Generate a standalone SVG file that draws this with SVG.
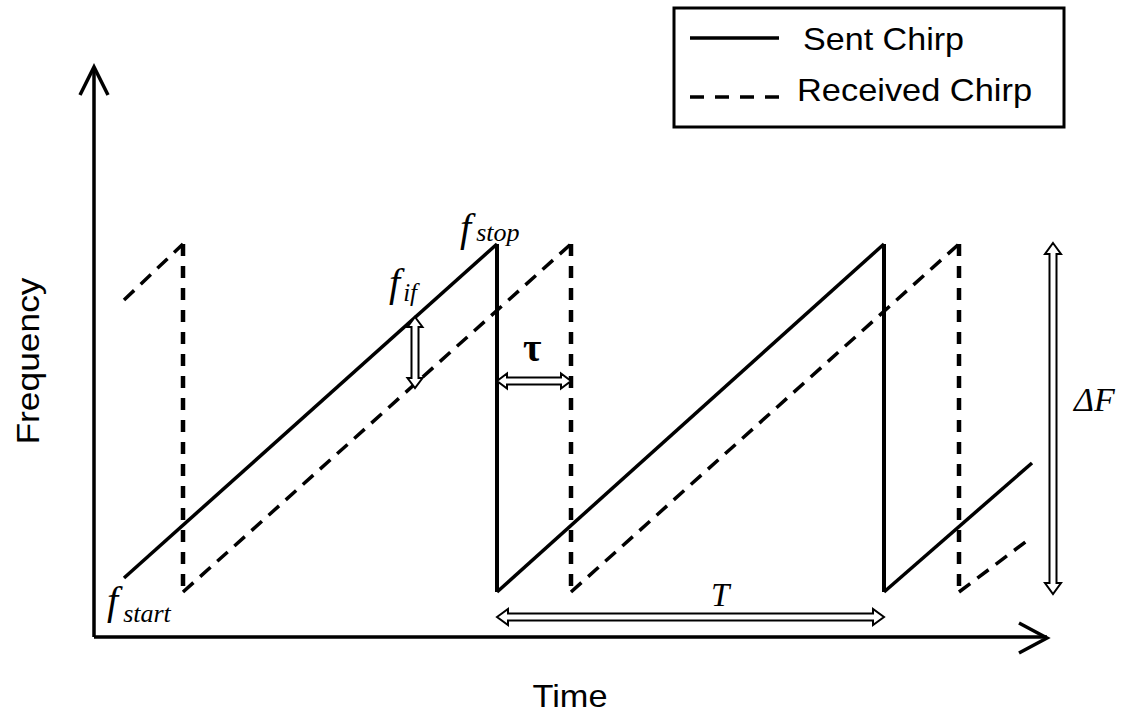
<svg xmlns="http://www.w3.org/2000/svg" width="1131" height="712" viewBox="0 0 1131 712">
  <style>
    .axis { stroke: #000; stroke-width: 3.5; fill: none; }
    .sent { stroke: #000; stroke-width: 3.5; fill: none; stroke-linejoin: miter; }
    .sentv { stroke: #000; stroke-width: 4; fill: none; }
    .recv { stroke: #000; stroke-width: 3.5; fill: none; stroke-dasharray: 14 9; }
    .recvv { stroke: #000; stroke-width: 4.5; fill: none; stroke-dasharray: 12 10; }
    .hollow { fill: #fff; stroke: #000; stroke-width: 2; stroke-linejoin: miter; }
    .sans { font-family: "Liberation Sans", Arial, sans-serif; fill: #000; }
    .math { font-family: "Liberation Serif", "Times New Roman", serif; font-style: italic; fill: #000; }
  </style>

  <rect width="1131" height="712" fill="#fff"/>

  <!-- axes -->
  <g id="axes">
    <path class="axis" d="M94,637 V67 M94,637 H1047"/>
    <path class="axis" stroke-width="4" d="M80,95 L94,67 L108,95"/>
    <path class="axis" stroke-width="4" d="M1019,623 L1047,638 L1019,653"/>
  </g>

  <!-- transmitted sawtooth -->
  <g id="sent-chirp">
    <path class="sent" d="M124,578 L497,244"/>
    <path class="sentv" d="M497,244 V592"/>
    <path class="sent" d="M497,592 L884,244"/>
    <path class="sentv" d="M884,244 V592"/>
    <path class="sent" d="M884,592 L1032,463"/>
  </g>

  <!-- delayed (received) sawtooth -->
  <g id="received-chirp">
    <path class="recv" d="M124,300 L183,244"/>
    <path class="recvv" d="M183,244 V592"/>
    <path class="recv" d="M183,592 L571,244"/>
    <path class="recvv" d="M571,244 V592"/>
    <path class="recv" d="M571,592 L959,244"/>
    <path class="recvv" d="M959,244 V592"/>
    <path class="recv" d="M959,592 L1032,537"/>
  </g>

  <!-- dimension arrows -->
  <g id="connectors">
    <polygon id="arrow-fif" class="hollow" points="415,317 422.5,327 418.5,327 418.5,378 422.5,378 415,388 407.5,378 411.5,378 411.5,327 407.5,327"/>
    <polygon id="arrow-tau" class="hollow" points="497,381 507,373.5 507,377.5 561,377.5 561,373.5 571,381 561,388.5 561,384.5 507,384.5 507,388.5"/>
    <polygon id="arrow-T" class="hollow" points="497,617 508,609 508,613.5 873,613.5 873,609 884,617 873,625 873,620.5 508,620.5 508,625"/>
    <polygon id="arrow-dF" class="hollow" points="1053,243 1061,254 1056.5,254 1056.5,583 1061,583 1053,594 1045,583 1049.5,583 1049.5,254 1045,254"/>
  </g>

  <!-- symbol labels -->
  <g id="label-fstop">
    <text class="math" x="460" y="241" font-size="40">f<tspan font-size="26" dx="5" dy="0">stop</tspan></text>
  </g>
  <g id="label-fif">
    <text class="math" x="389" y="296" font-size="40">f<tspan font-size="25" dx="3" dy="5">if</tspan></text>
  </g>
  <g id="label-fstart">
    <text class="math" x="107" y="614" font-size="40">f<tspan font-size="26" dx="5" dy="8">start</tspan></text>
  </g>
  <g id="label-tau">
    <text x="523" y="361" font-family="Liberation Serif, serif" font-weight="bold" font-size="40" fill="#000">τ</text>
  </g>
  <g id="label-T">
    <text class="math" x="711" y="606" font-size="33">T</text>
  </g>
  <g id="label-dF">
    <text class="math" x="1074" y="411" font-size="34">ΔF</text>
  </g>

  <!-- axis titles -->
  <g id="label-frequency">
    <text class="sans" font-size="32" transform="translate(39,361) rotate(-90)" text-anchor="middle" textLength="167" lengthAdjust="spacingAndGlyphs">Frequency</text>
  </g>
  <g id="label-time">
    <text class="sans" x="570" y="707" font-size="32" text-anchor="middle" textLength="75" lengthAdjust="spacingAndGlyphs">Time</text>
  </g>

  <!-- legend -->
  <g id="legend">
    <rect x="674" y="8" width="390" height="119" fill="#fff" stroke="#000" stroke-width="3"/>
    <line x1="690" y1="38" x2="779" y2="38" stroke="#000" stroke-width="3.5"/>
    <line x1="690" y1="97" x2="779" y2="97" stroke="#000" stroke-width="3.5" stroke-dasharray="14 11"/>
    <text class="sans" x="803" y="50" font-size="32" textLength="161" lengthAdjust="spacingAndGlyphs">Sent Chirp</text>
    <text class="sans" x="797" y="101" font-size="32" textLength="235" lengthAdjust="spacingAndGlyphs">Received Chirp</text>
  </g>
</svg>
